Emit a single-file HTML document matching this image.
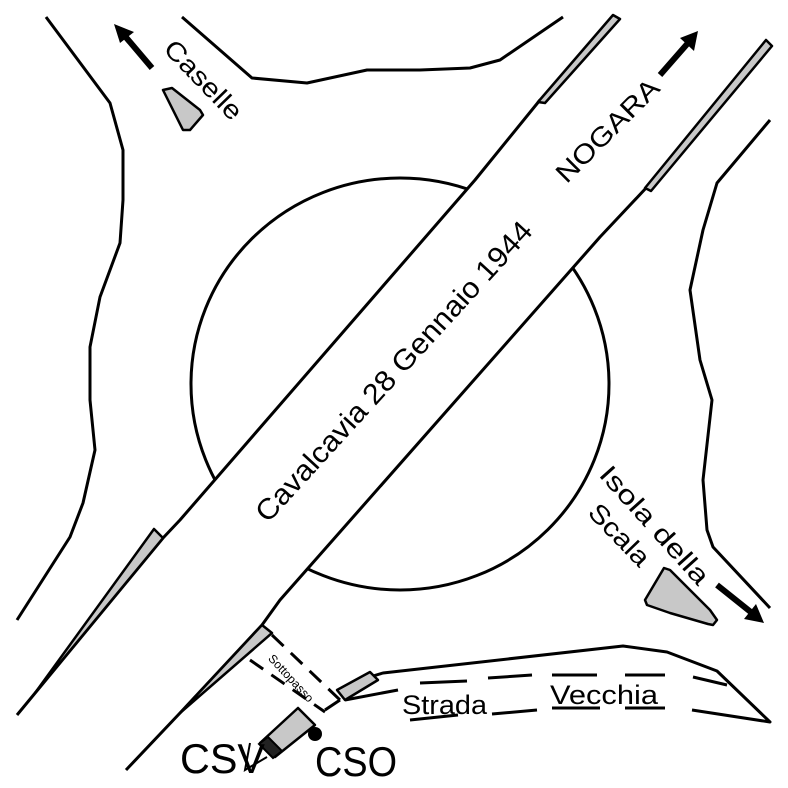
<!DOCTYPE html>
<html><head><meta charset="utf-8"><style>html,body{margin:0;padding:0;background:#fff}svg{display:block}</style></head>
<body>
<svg width="788" height="788" viewBox="0 0 788 788" xmlns="http://www.w3.org/2000/svg" font-family="Liberation Sans, Arial, sans-serif">
<rect width="788" height="788" fill="#fff"/>
<g fill="none" stroke="#000" stroke-width="3" stroke-linejoin="round">
<ellipse cx="400" cy="384" rx="209" ry="206"/>
</g>
<polygon points="17,715 163,538 180,520 475,180 540,100 618,16 770,42 647,187 600,237 280,600 262,625 180,713 126,770 0,788 0,740" fill="#fff"/>
<g fill="none" stroke="#000" stroke-width="3" stroke-linejoin="round">
<polyline points="17,715 163,538 180,520 475,180 540,100"/>
<polyline points="126,770 180,713 262,625 280,600 600,237 647,187"/>
<polyline points="46,17 110,103 123,150 123,200 120,243 100,297 90,347 90,400 95,450 83,503 70,537 17,620"/>
<polyline points="182,17 252,78 307,83 367,70 420,70 470,68 500,60 563,17"/>
<polyline points="770,120 717,183 703,230 690,290 700,360 712,400 703,480 707,530 713,547 770,608"/>
<polyline points="373,676 383,673 623,646 667,652 717,671 770,722 692,710"/>
<line x1="345" y1="700" x2="398" y2="690"/>
</g>
<g fill="#c8c8c8" stroke="#000" stroke-width="2.5" stroke-linejoin="round">
<polygon points="538,102 613,15 620,19 545,103"/>
<polygon points="645,188 766,40 772,46 651,191"/>
<polygon points="35,693 154,529 163,538"/>
<polygon points="180,713 262,625 272,633"/>
<polygon points="337,690 370,672 378,680 345,700"/>
<polygon points="163,90 172,88 200,110 203,115 190,130 183,130"/>
<polygon points="664,568 670,570 710,610 717,620 713,625 708,624 670,613 647,605 645,600"/>
<polygon points="298,708 315,725 275,757 260,743"/>
</g>
<polygon points="268,737 282,751 273,758 259,744" fill="#222" stroke="#000" stroke-width="2"/>
<circle cx="315" cy="734" r="7" fill="#000"/>
<polyline points="250,743 245,770 267,757" fill="none" stroke="#000" stroke-width="2"/>
<g stroke="#000" stroke-width="3" fill="none">
<line x1="420" y1="683" x2="467" y2="681"/>
<line x1="488" y1="678" x2="532" y2="675"/>
<line x1="552" y1="675" x2="597" y2="675"/>
<line x1="625" y1="675" x2="665" y2="675"/>
<line x1="693" y1="677" x2="727" y2="685"/>
<line x1="410" y1="720" x2="458" y2="715"/>
<line x1="492" y1="714" x2="537" y2="710"/>
<line x1="552" y1="708" x2="600" y2="708"/>
<line x1="625" y1="708" x2="665" y2="708"/>
<line x1="250" y1="660" x2="325" y2="712" stroke-dasharray="16,10"/>
<line x1="272" y1="635" x2="340" y2="700" stroke-dasharray="16,10"/>
<line x1="325" y1="710" x2="340" y2="700"/>
</g>
<g stroke="#000" stroke-width="6" fill="#000">
<line x1="152" y1="68" x2="124" y2="35"/>
<line x1="660" y1="75" x2="688" y2="43"/>
<line x1="717" y1="585" x2="752" y2="613"/>
</g>
<polygon points="114,24 134,32 120,43" fill="#000"/>
<polygon points="698,31 694,51 680,38" fill="#000"/>
<polygon points="764,623 744,619 756,604" fill="#000"/>
<g fill="#000">
<text x="0" y="0" font-size="29" text-anchor="middle" transform="translate(401,378) rotate(-47.6)" textLength="395" lengthAdjust="spacingAndGlyphs">Cavalcavia 28 Gennaio 1944</text>
<text x="0" y="0" font-size="27" text-anchor="middle" transform="translate(614,137) rotate(-45)" textLength="134" lengthAdjust="spacingAndGlyphs">NOGARA</text>
<text x="0" y="0" font-size="26" text-anchor="middle" transform="translate(197,86) rotate(46)" textLength="100" lengthAdjust="spacingAndGlyphs">Caselle</text>
<text x="0" y="0" font-size="26" text-anchor="middle" transform="translate(648,531) rotate(48)" textLength="150" lengthAdjust="spacingAndGlyphs">Isola della</text>
<text x="0" y="0" font-size="26" text-anchor="middle" transform="translate(613,541) rotate(46)" textLength="76" lengthAdjust="spacingAndGlyphs">Scala</text>
<text x="0" y="0" font-size="12" text-anchor="middle" transform="translate(288,681) rotate(47)">Sottopasso</text>
<text x="402" y="714" font-size="27" textLength="85" lengthAdjust="spacingAndGlyphs">Strada</text>
<text x="550" y="704" font-size="27" textLength="108" lengthAdjust="spacingAndGlyphs">Vecchia</text>
<text x="180" y="773" font-size="42" textLength="85" lengthAdjust="spacingAndGlyphs">CSV</text>
<text x="315" y="776" font-size="42" textLength="82" lengthAdjust="spacingAndGlyphs">CSO</text>
</g>
</svg>
</body></html>
